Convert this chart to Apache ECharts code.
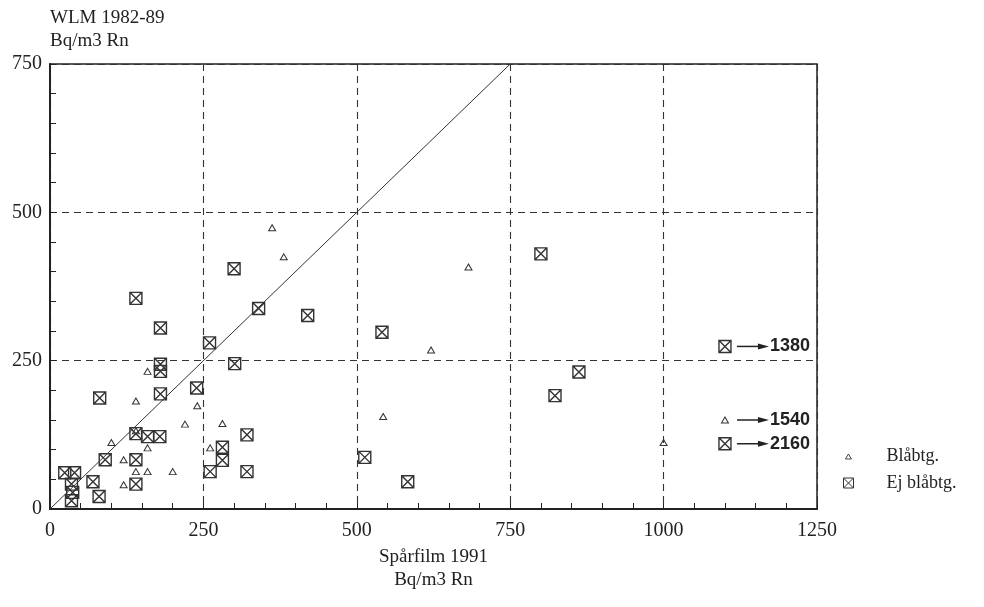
<!DOCTYPE html>
<html>
<head>
<meta charset="utf-8">
<script src="https://cdn.jsdelivr.net/npm/echarts@6/dist/echarts.min.js"></script>
<style>
  html, body { margin: 0; padding: 0; background: #fff; }
  #chart { width: 984px; height: 607px; }
</style>
</head>
<body>
<div id="chart"></div>
<script>
// Axis ticks
const xTicks = [0, 250, 500, 750, 1000, 1250];
const yTicks = [0, 250, 500, 750];

// Blåbtg. (triangles): spårfilm 1991 vs WLM 1982-89
const blaX = [362, 381, 682, 621, 543, 1000, 159, 140, 240, 220, 100, 159, 120, 140, 159, 200, 120, 261, 140, 281];
const blaY = [474, 425, 408, 268, 156, 112, 232, 182, 174, 143, 112, 103, 83, 63, 63, 63, 41, 103, 132, 144];

// Ej blåbtg. (crossed squares)
const ejX = [140, 180, 300, 260, 340, 420, 800, 541, 862, 823, 513, 583, 180, 180, 239, 81, 180, 140, 159, 179,
             90, 140, 24, 40, 35, 261, 70, 140, 37, 80, 35, 301, 321, 281, 281, 321];
const ejY = [355, 305, 405, 280, 338, 326, 430, 298, 231, 191, 87, 46, 244, 232, 204, 187, 194, 127, 122, 122,
             83, 83, 61, 61, 42, 63, 46, 42, 28, 21, 14, 245, 125, 104, 82, 63];

// Houses whose spårfilm value lies beyond the axis; drawn at OFF_SCALE_POS with an arrow
const offValue = [1380, 1540, 2160];
const offY = [274, 150, 110];
const offGroup = ['Ej blåbtg.', 'Blåbtg.', 'Ej blåbtg.'];
const OFF_SCALE_POS = 1100;

// Line of equality
const diagonal = [[0, 0], [750, 750]];

const SERIF = '"Liberation Serif", "Times New Roman", serif';
const INK = '#222';
const SQUARE = 'path://M0,0H10V10H0ZM0,0L10,10M10,0L0,10';

const pairs = (xs, ys) => xs.map((x, i) => [x, ys[i]]);
const offPoints = name => offY.filter((_, i) => offGroup[i] === name).map(y => [OFF_SCALE_POS, y]);

const chart = echarts.init(document.getElementById('chart'));

const legendText = pad => ({ fontFamily: SERIF, fontSize: 18, color: INK, padding: [0, 0, 0, pad] });

chart.setOption({
  animation: false,
  backgroundColor: '#fff',
  grid: {
    left: 50, top: 64, width: 767, height: 445,
    show: true, borderColor: INK, borderWidth: 1.5, backgroundColor: 'transparent'
  },
  legend: [
    {
      data: ['Blåbtg.'], orient: 'vertical', left: 845, top: 447.5, padding: 0,
      itemWidth: 6, itemHeight: 5, textStyle: legendText(30),
      itemStyle: { color: 'rgba(0,0,0,0)', borderColor: '#333', borderWidth: 0.9 }
    },
    {
      data: ['Ej blåbtg.'], orient: 'vertical', left: 843, top: 474, padding: 0,
      itemWidth: 10, itemHeight: 10, textStyle: legendText(28),
      itemStyle: { color: 'rgba(0,0,0,0)', borderColor: '#333', borderWidth: 1 }
    }
  ],
  xAxis: {
    type: 'value', min: xTicks[0], max: xTicks[xTicks.length - 1], interval: 250,
    name: 'Spårfilm 1991\nBq/m3 Rn', nameLocation: 'middle', nameGap: 36,
    nameTextStyle: { fontFamily: SERIF, fontSize: 19, color: INK, lineHeight: 23 },
    axisLine: { show: true, onZero: false, lineStyle: { color: INK, width: 2 } },
    axisTick: { show: true, inside: true, length: 6, lineStyle: { color: INK, width: 1 } },
    minorTick: { show: true, splitNumber: 5, length: 6, lineStyle: { color: INK, width: 1 } },
    axisLabel: { fontFamily: SERIF, fontSize: 20, color: INK, margin: 12, formatter: v => String(v) },
    splitLine: { show: true, lineStyle: { color: '#333', width: 1.1, type: [7, 5] } }
  },
  yAxis: {
    type: 'value', min: yTicks[0], max: yTicks[yTicks.length - 1], interval: 250,
    name: 'WLM 1982-89\nBq/m3 Rn', nameLocation: 'end', nameGap: 11,
    nameTextStyle: { fontFamily: SERIF, fontSize: 19, color: INK, lineHeight: 23, align: 'left' },
    axisLine: { show: true, onZero: false, lineStyle: { color: INK, width: 2 } },
    axisTick: { show: true, inside: true, length: 6, lineStyle: { color: INK, width: 1 } },
    minorTick: { show: true, splitNumber: 5, length: 6, lineStyle: { color: INK, width: 1 } },
    axisLabel: { fontFamily: SERIF, fontSize: 20, color: INK, margin: 8, formatter: v => String(v) },
    splitLine: { show: true, lineStyle: { color: '#333', width: 1.1, type: [7, 5] } }
  },
  series: [
    {
      name: 'diagonal', type: 'line', data: diagonal, showSymbol: false, silent: true,
      lineStyle: { color: '#333', width: 1 }, z: 2
    },
    {
      name: 'Blåbtg.', type: 'scatter', symbol: 'triangle', symbolSize: [7, 6],
      data: pairs(blaX, blaY).concat(offPoints('Blåbtg.')),
      itemStyle: { color: 'rgba(0,0,0,0)', borderColor: '#333', borderWidth: 1, opacity: 1 },
      z: 3
    },
    {
      name: 'Ej blåbtg.', type: 'scatter', symbol: SQUARE, symbolSize: 12,
      data: pairs(ejX, ejY).concat(offPoints('Ej blåbtg.')),
      itemStyle: { color: 'rgba(0,0,0,0)', borderColor: '#333', borderWidth: 1.4, opacity: 1 },
      z: 3
    },
    {
      name: 'offscale', type: 'custom', silent: true, z: 4,
      data: offY.map((y, i) => [OFF_SCALE_POS, y, offValue[i]]),
      encode: { x: 0, y: 1 },
      renderItem(params, api) {
        const p = api.coord([api.value(0), api.value(1)]);
        const x = p[0], y = p[1];
        return {
          type: 'group',
          children: [
            { type: 'line', shape: { x1: x + 12, y1: y, x2: x + 36, y2: y },
              style: { stroke: INK, lineWidth: 1.5 } },
            { type: 'polygon', shape: { points: [[x + 33, y - 3], [x + 44, y], [x + 33, y + 3]] },
              style: { fill: INK } },
            { type: 'text', x: x + 45, y: y,
              style: { text: String(api.value(2)), fill: INK, align: 'left', verticalAlign: 'middle',
                       font: 'bold 18px "Liberation Sans", Arial, sans-serif' } }
          ]
        };
      }
    }
  ]
});
</script>
</body>
</html>
